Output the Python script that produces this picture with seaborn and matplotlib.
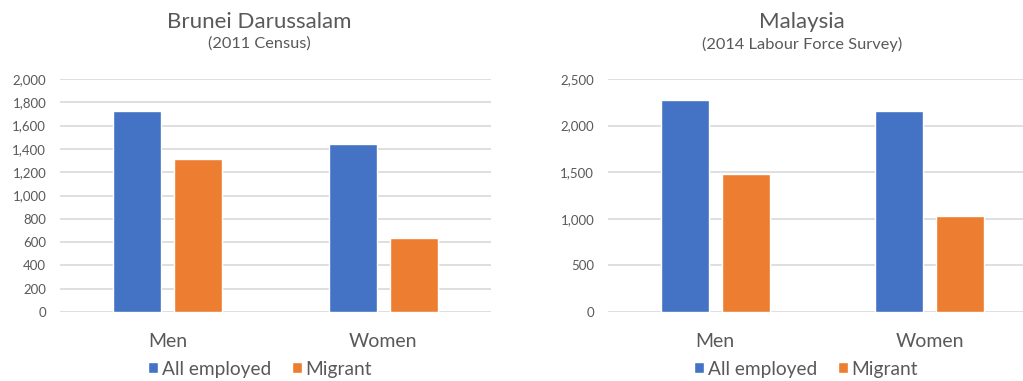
import pandas as pd
import numpy as np
import matplotlib.pyplot as plt
import seaborn as sns

# Dati (migliaia di occupati)
sexes = ['Men', 'Women']
series = ['All employed', 'Migrant']
brunei_all = [1728, 1445]
brunei_migrant = [1310, 635]
malaysia_all = [2270, 2155]
malaysia_migrant = [1480, 1035]

def long_df(all_vals, mig_vals):
    return pd.DataFrame({
        'Sex': sexes * 2,
        'Group': [series[0]] * 2 + [series[1]] * 2,
        'Value': list(all_vals) + list(mig_vals),
    })

brunei = long_df(brunei_all, brunei_migrant)
malaysia = long_df(malaysia_all, malaysia_migrant)

sns.set_theme(style="white")
plt.rcParams['font.family'] = ['Lato', 'DejaVu Sans']

colors = {'All employed': '#4472C4', 'Migrant': '#ED7D31'}
grey_text = '#595959'
grid_col = '#D9D9D9'

W, H = 1023, 381
fig = plt.figure(figsize=(W / 100, H / 100), dpi=100)

def px_axes(x0, x1, y_top, y_bot):
    return fig.add_axes([x0 / W, (H - y_bot) / H, (x1 - x0) / W, (y_bot - y_top) / H])

ax1 = px_axes(60, 491, 79, 312)
ax2 = px_axes(608, 1023, 79, 312)

def draw(ax, df, ymax, step, xright, legend_x):
    sns.barplot(data=df, x='Sex', y='Value', hue='Group', palette=colors,
                width=0.566, gap=0.21, ax=ax, saturation=1)
    ax.set_ylim(0, ymax)
    ax.set_xlim(-0.5, xright)
    ax.set_yticks(np.arange(0, ymax + 1, step))
    ax.yaxis.set_major_formatter(plt.FuncFormatter(lambda v, p: f'{int(v):,}'))
    ax.grid(axis='y', color=grid_col, linewidth=1.2)
    ax.set_axisbelow(True)
    for s in ax.spines.values():
        s.set_visible(False)
    ax.tick_params(axis='both', length=0, colors=grey_text)
    ax.tick_params(axis='y', labelsize=9.5, pad=10)
    ax.tick_params(axis='x', labelsize=14, pad=15)
    ax.set_xlabel('')
    ax.set_ylabel('')
    ax.legend(loc='center', bbox_to_anchor=(legend_x, -0.245), ncol=2, frameon=False,
              fontsize=13.8, handlelength=0.52, handleheight=0.52, handletextpad=0.2,
              columnspacing=1.1, labelcolor=grey_text, borderaxespad=0)

draw(ax1, brunei, 2000, 200, 1.5, (260 - 60) / 431)
draw(ax2, malaysia, 2500, 500, 1.435, (806 - 608) / 415)

fig.text(259 / W, 1 - 22 / H, 'Brunei Darussalam', ha='center', va='center',
         fontsize=16, color=grey_text)
fig.text(259 / W, 1 - 44 / H, '(2011 Census)', ha='center', va='center',
         fontsize=11.8, color=grey_text)
fig.text(802 / W, 1 - 22 / H, 'Malaysia', ha='center', va='center',
         fontsize=16, color=grey_text)
fig.text(802 / W, 1 - 44 / H, '(2014 Labour Force Survey)', ha='center', va='center',
         fontsize=11.8, color=grey_text)

plt.savefig('out.png', dpi=100)
